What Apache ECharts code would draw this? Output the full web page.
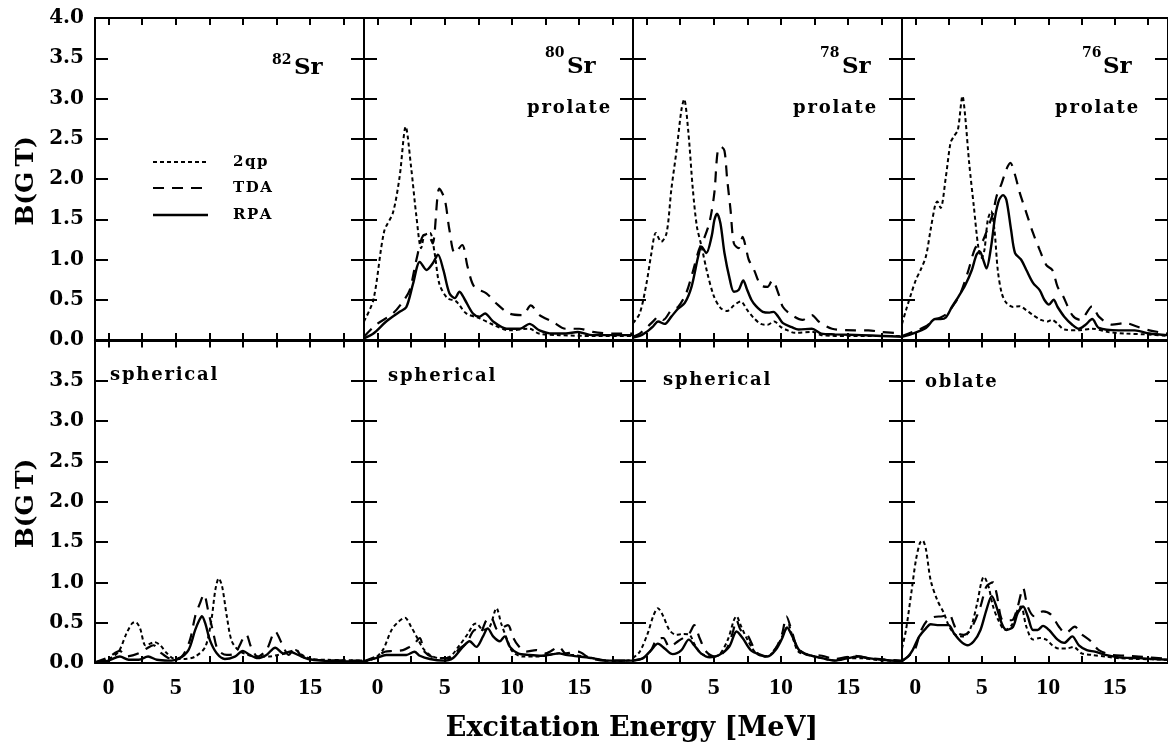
<!DOCTYPE html>
<html><head><meta charset="utf-8">
<script src="https://cdn.jsdelivr.net/npm/echarts@6/dist/echarts.min.js"></script>
<style>html,body{margin:0;padding:0;background:#fff}#c{width:1168px;height:751px}</style>
</head><body><div id="c"></div><script>
// ---------- tick labels ----------
const xTickVals = [0, 2.5, 5, 7.5, 10, 12.5, 15, 17.5];
const xLabelVals = [0, 5, 10, 15];
const seriesNames = ['2qp', 'TDA', 'RPA'];
const nuclei = ['82', '80', '78', '76'];
const topShapes = ['', 'prolate', 'prolate', 'prolate'];
const bottomShapes = ['spherical', 'spherical', 'spherical', 'oblate'];

// ---------- data: [energy MeV, B(GT)] ----------
// 80Sr prolate
const p80_2qp = [[-1,0.23],[-0.3,0.5],[0.5,1.35],[1.15,1.58],[1.65,2.03],[2.1,2.65],[2.5,2.15],[2.9,1.53],[3.25,1.14],[3.5,1.3],[3.9,1.33],[4.25,1.08],[4.6,0.7],[5.2,0.52],[5.85,0.48],[6.6,0.33],[7.6,0.27],[8.6,0.19],[9.8,0.12],[11.3,0.14],[12,0.08],[13.5,0.06],[16,0.05],[19,0.05]];
const p80_tda = [[-1,0.04],[-0.1,0.19],[1.15,0.33],[1.9,0.48],[2.4,0.62],[2.9,1.0],[3.4,1.3],[3.75,1.31],[4.1,1.2],[4.6,1.88],[5.0,1.75],[5.35,1.37],[5.75,1.08],[6.3,1.18],[6.7,0.91],[7.2,0.66],[8.1,0.58],[8.8,0.46],[9.8,0.33],[10.8,0.31],[11.4,0.43],[12.05,0.31],[13,0.23],[14,0.14],[15,0.14],[16,0.1],[17.5,0.08],[19,0.08]];
const p80_rpa = [[-1,0.02],[-0.3,0.08],[0.65,0.23],[1.65,0.35],[2.15,0.41],[2.65,0.7],[3.15,0.97],[3.65,0.87],[4.1,0.95],[4.5,1.06],[4.9,0.87],[5.35,0.58],[5.75,0.52],[6.1,0.6],[6.5,0.5],[7.1,0.33],[7.6,0.29],[8.0,0.33],[8.6,0.23],[9.6,0.14],[10.6,0.14],[11.3,0.2],[12.05,0.12],[13,0.08],[14,0.08],[14.9,0.1],[16,0.06],[19,0.06]];
// 78Sr prolate
const p78_2qp = [[-1,0.21],[-0.5,0.33],[0,0.7],[0.37,1.08],[0.7,1.33],[1.1,1.22],[1.5,1.33],[1.85,1.87],[2.25,2.37],[2.6,2.86],[2.8,2.99],[3.1,2.61],[3.45,1.87],[3.75,1.41],[4.1,1.16],[4.5,0.85],[5.0,0.55],[5.5,0.4],[6.0,0.36],[6.5,0.43],[7.0,0.48],[7.5,0.37],[8.0,0.27],[8.5,0.2],[9.0,0.19],[9.5,0.23],[10,0.16],[10.5,0.12],[11,0.09],[12.4,0.1],[13,0.06],[15,0.05],[19,0.05]];
const p78_tda = [[-1,0.04],[-0.5,0.08],[0,0.15],[0.6,0.25],[0.87,0.29],[1.25,0.25],[1.85,0.37],[2.35,0.41],[2.95,0.58],[3.45,0.85],[3.9,1.12],[4.35,1.29],[4.7,1.47],[5.05,1.83],[5.3,2.35],[5.55,2.4],[5.8,2.35],[6.0,2.0],[6.25,1.62],[6.5,1.2],[6.85,1.14],[7.15,1.28],[7.4,1.14],[7.6,1.0],[8.0,0.87],[8.5,0.68],[9.0,0.66],[9.35,0.74],[9.85,0.56],[10.15,0.41],[10.8,0.31],[11.6,0.25],[12.3,0.31],[12.8,0.23],[13.8,0.14],[15.5,0.12],[16.5,0.12],[17.5,0.1],[19,0.08]];
const p78_rpa = [[-1,0.03],[-0.5,0.05],[0,0.1],[0.5,0.17],[0.87,0.23],[1.35,0.2],[1.85,0.29],[2.35,0.39],[2.85,0.46],[3.35,0.66],[3.85,1.04],[4.1,1.16],[4.45,1.08],[4.85,1.29],[5.05,1.49],[5.25,1.57],[5.5,1.45],[5.8,1.08],[6.2,0.75],[6.5,0.6],[6.85,0.62],[7.2,0.74],[7.45,0.64],[7.8,0.5],[8.15,0.42],[8.65,0.35],[9.15,0.34],[9.45,0.35],[9.8,0.29],[10.15,0.21],[10.8,0.16],[11.3,0.13],[12.3,0.14],[13,0.08],[14,0.07],[16,0.06],[17.5,0.05],[19,0.04]];
// 76Sr prolate
const p76_2qp = [[-1,0.2],[-0.7,0.37],[-0.3,0.58],[0.05,0.75],[0.4,0.87],[0.8,1.04],[1.15,1.37],[1.5,1.68],[1.65,1.72],[1.9,1.64],[2.3,2.03],[2.65,2.45],[2.9,2.53],[3.2,2.61],[3.55,3.03],[3.75,2.78],[4.05,2.2],[4.4,1.66],[4.75,1.14],[5.0,1.02],[5.2,1.12],[5.45,1.49],[5.7,1.6],[5.95,1.37],[6.2,0.87],[6.5,0.58],[6.85,0.46],[7.35,0.41],[7.85,0.42],[8.35,0.37],[8.85,0.31],[9.45,0.25],[9.95,0.23],[10.25,0.25],[10.65,0.21],[11.2,0.13],[12.3,0.12],[13.3,0.14],[14.5,0.1],[15.8,0.08],[17.3,0.07],[19,0.05]];
const p76_tda = [[-1,0.05],[-0.2,0.1],[0.8,0.17],[1.4,0.25],[1.9,0.28],[2.4,0.33],[2.9,0.44],[3.4,0.58],[4.0,0.87],[4.5,1.14],[4.9,1.2],[5.1,1.24],[5.5,1.41],[5.85,1.58],[6.1,1.78],[6.5,1.95],[6.85,2.12],[7.15,2.2],[7.5,2.05],[7.85,1.83],[8.35,1.58],[8.85,1.33],[9.35,1.12],[9.85,0.93],[10.3,0.87],[10.7,0.66],[11.1,0.55],[11.8,0.31],[12.4,0.25],[13.3,0.42],[13.8,0.29],[14.8,0.19],[15.8,0.21],[16.6,0.17],[17.6,0.12],[19,0.08]];
const p76_rpa = [[-1,0.04],[-0.2,0.08],[0.8,0.15],[1.5,0.26],[1.9,0.26],[2.3,0.28],[2.75,0.41],[3.25,0.54],[3.75,0.68],[4.25,0.87],[4.6,1.06],[4.85,1.1],[5.1,1.0],[5.35,0.89],[5.7,1.16],[6.0,1.53],[6.3,1.74],[6.6,1.8],[6.85,1.74],[7.2,1.37],[7.5,1.08],[7.95,1.0],[8.35,0.87],[8.85,0.71],[9.35,0.62],[9.7,0.5],[10.05,0.44],[10.4,0.5],[10.7,0.41],[11.2,0.29],[11.8,0.19],[12.3,0.14],[12.8,0.19],[13.3,0.26],[13.8,0.15],[15.3,0.12],[16.5,0.12],[17.6,0.08],[19,0.06]];
// 82Sr spherical
const s82_2qp = [[-1,0.01],[0,0.05],[0.75,0.14],[1.35,0.37],[1.75,0.49],[2.0,0.51],[2.35,0.43],[2.75,0.22],[3.1,0.24],[3.4,0.26],[3.85,0.22],[4.35,0.12],[4.95,0.05],[5.7,0.05],[6.45,0.08],[7.2,0.2],[7.65,0.53],[7.95,0.91],[8.2,1.05],[8.45,0.95],[8.8,0.58],[9.15,0.28],[9.65,0.16],[10.4,0.1],[11.1,0.08],[11.9,0.08],[12.6,0.1],[13.2,0.12],[13.9,0.16],[14.4,0.1],[15.1,0.05],[16.3,0.04],[19,0.03]];
const s82_tda = [[-1,0.01],[0,0.07],[0.85,0.15],[1.35,0.08],[2.25,0.12],[2.85,0.18],[3.35,0.22],[3.95,0.12],[4.7,0.05],[5.45,0.08],[6.05,0.28],[6.45,0.58],[6.8,0.74],[7.1,0.85],[7.4,0.66],[7.8,0.37],[8.15,0.16],[8.8,0.1],[9.4,0.12],[10.25,0.35],[10.6,0.2],[11.1,0.08],[11.75,0.16],[12.4,0.39],[12.9,0.24],[13.4,0.1],[13.85,0.18],[14.4,0.08],[15.3,0.04],[19,0.03]];
const s82_rpa = [[-1,0.01],[0,0.03],[0.85,0.08],[1.5,0.04],[2.25,0.04],[2.95,0.08],[3.6,0.04],[4.45,0.03],[5.2,0.05],[5.95,0.16],[6.45,0.41],[6.75,0.53],[6.95,0.58],[7.2,0.49],[7.55,0.28],[8.05,0.12],[8.65,0.05],[9.4,0.08],[10.0,0.15],[10.5,0.1],[11.1,0.06],[11.75,0.1],[12.4,0.19],[13.0,0.12],[13.5,0.14],[14.1,0.1],[14.85,0.05],[15.8,0.03],[19,0.02]];
// 80Sr spherical
const s80_2qp = [[-1,0.02],[-0.2,0.06],[0.4,0.16],[1.05,0.41],[1.55,0.51],[2.05,0.56],[2.5,0.45],[2.9,0.33],[3.4,0.18],[3.9,0.1],[4.6,0.06],[5.4,0.08],[6.1,0.22],[6.75,0.37],[7.1,0.47],[7.35,0.49],[7.85,0.41],[8.35,0.45],[8.85,0.68],[9.2,0.49],[9.6,0.31],[10.05,0.14],[10.8,0.08],[11.8,0.08],[12.5,0.09],[13.5,0.12],[14.5,0.1],[15.5,0.08],[16.5,0.04],[18,0.02],[19,0.04]];
const s80_tda = [[-1,0.02],[-0.1,0.08],[0.55,0.14],[1.15,0.15],[1.9,0.16],[2.4,0.2],[2.75,0.24],[3.15,0.31],[3.5,0.14],[4.4,0.06],[5.4,0.06],[6.1,0.18],[6.6,0.24],[7.25,0.41],[7.6,0.37],[8.1,0.53],[8.45,0.56],[8.95,0.41],[9.7,0.47],[10.05,0.33],[10.45,0.22],[11.05,0.14],[11.8,0.16],[12.5,0.12],[13.5,0.2],[14,0.12],[14.9,0.14],[15.8,0.06],[17,0.03],[19,0.03]];
const s80_rpa = [[-1,0.02],[-0.1,0.06],[0.65,0.1],[1.4,0.1],[2.15,0.1],[2.75,0.14],[3.15,0.09],[3.9,0.05],[4.9,0.03],[5.6,0.06],[6.35,0.2],[6.85,0.27],[7.35,0.2],[7.85,0.33],[8.2,0.43],[8.6,0.33],[9.1,0.27],[9.45,0.33],[9.85,0.2],[10.45,0.12],[11.3,0.1],[12.2,0.09],[13.05,0.11],[13.5,0.12],[14,0.1],[15,0.08],[16,0.06],[17,0.03],[19,0.03]];
// 78Sr spherical
const s78_2qp = [[-1,0.06],[-0.5,0.14],[0.1,0.37],[0.5,0.58],[0.85,0.68],[1.25,0.58],[1.7,0.41],[2.2,0.35],[2.7,0.36],[3.2,0.35],[3.55,0.24],[4.05,0.12],[4.8,0.08],[5.4,0.1],[6.05,0.29],[6.5,0.53],[6.7,0.58],[7.0,0.47],[7.5,0.29],[8.15,0.12],[8.75,0.08],[9.35,0.12],[9.85,0.25],[10.3,0.4],[10.55,0.47],[10.9,0.3],[11.3,0.14],[12.05,0.1],[13.05,0.06],[14,0.03],[15,0.06],[16,0.06],[17,0.04],[19,0.02]];
const s78_tda = [[-1,0.03],[-0.25,0.06],[0.35,0.16],[0.75,0.29],[1.25,0.31],[1.7,0.2],[2.35,0.27],[3.2,0.37],[3.55,0.47],[3.95,0.31],[4.45,0.14],[5.15,0.08],[5.9,0.16],[6.4,0.37],[6.7,0.53],[7.0,0.41],[7.5,0.35],[8.15,0.14],[8.85,0.08],[9.6,0.18],[10.1,0.37],[10.4,0.58],[10.85,0.37],[11.2,0.2],[11.95,0.1],[13.05,0.09],[14,0.05],[15.5,0.09],[16.5,0.06],[19,0.03]];
const s78_rpa = [[-1,0.03],[-0.25,0.06],[0.35,0.16],[0.85,0.24],[1.35,0.18],[1.95,0.11],[2.6,0.16],[3.15,0.29],[3.55,0.22],[4.05,0.12],[4.7,0.07],[5.4,0.1],[6.15,0.2],[6.7,0.39],[7.15,0.31],[7.75,0.16],[8.5,0.1],[9.0,0.08],[9.6,0.16],[10.1,0.31],[10.45,0.44],[10.85,0.33],[11.35,0.16],[12.05,0.1],[13.05,0.06],[14,0.03],[15,0.06],[15.8,0.08],[16.5,0.06],[17.5,0.04],[19,0.02]];
// 76Sr oblate
const o76_2qp = [[-1,0.18],[-0.7,0.41],[-0.3,0.87],[0.05,1.28],[0.35,1.49],[0.55,1.52],[0.8,1.41],[1.15,1.03],[1.65,0.78],[2.15,0.62],[2.5,0.47],[3.0,0.35],[3.65,0.33],[4.15,0.43],[4.65,0.74],[4.95,0.99],[5.15,1.07],[5.5,0.95],[5.85,0.7],[6.25,0.53],[6.75,0.41],[7.25,0.47],[7.7,0.66],[7.95,0.7],[8.35,0.45],[8.85,0.29],[9.35,0.31],[9.85,0.29],[10.3,0.22],[10.8,0.18],[11.4,0.18],[11.9,0.2],[12.5,0.12],[13.3,0.1],[14.3,0.08],[15.3,0.06],[16.8,0.05],[19,0.04]];
const o76_tda = [[-1,0.02],[-0.55,0.08],[-0.05,0.16],[0.4,0.39],[0.9,0.53],[1.4,0.57],[2.05,0.58],[2.55,0.6],[2.9,0.48],[3.2,0.37],[3.65,0.35],[4.15,0.41],[4.9,0.7],[5.35,0.95],[5.85,1.0],[6.1,0.87],[6.6,0.53],[7.25,0.53],[7.7,0.7],[8.1,0.93],[8.45,0.7],[8.95,0.58],[9.6,0.64],[10.2,0.6],[10.8,0.45],[11.3,0.37],[12.0,0.45],[12.4,0.37],[13.2,0.27],[13.8,0.16],[14.8,0.1],[15.8,0.09],[16.8,0.08],[19,0.05]];
const o76_rpa = [[-1,0.03],[-0.55,0.08],[-0.2,0.16],[0.3,0.33],[0.8,0.43],[1.15,0.48],[1.65,0.47],[2.5,0.47],[2.9,0.37],[3.4,0.27],[3.9,0.22],[4.4,0.27],[4.9,0.41],[5.35,0.66],[5.75,0.83],[6.1,0.7],[6.5,0.49],[6.85,0.41],[7.35,0.45],[7.7,0.62],[8.1,0.7],[8.45,0.58],[8.85,0.41],[9.2,0.41],[9.6,0.46],[10.05,0.41],[10.7,0.29],[11.2,0.25],[11.8,0.33],[12.3,0.22],[12.9,0.16],[13.5,0.14],[14.3,0.1],[15.3,0.07],[16.8,0.06],[19,0.04]];

// panels: row-major, each panel = [2qp, TDA, RPA] or null
const panelData = [
  null, [p80_2qp, p80_tda, p80_rpa], [p78_2qp, p78_tda, p78_rpa], [p76_2qp, p76_tda, p76_rpa],
  [s82_2qp, s82_tda, s82_rpa], [s80_2qp, s80_tda, s80_rpa], [s78_2qp, s78_tda, s78_rpa], [o76_2qp, o76_tda, o76_rpa]
];

// ---------- layout / styles ----------
const LEFTS = [95, 364, 633, 902];
const PW = 269;
const TOPS = [18, 340.5];
const PH = [322, 322.5];
const lineStyles = [
  {color: '#000', width: 2, type: [4, 3]},
  {color: '#000', width: 2.2, type: [11, 8]},
  {color: '#000', width: 2.4, type: 'solid'}
];
const SERIF = '"DejaVu Serif", serif';
const TIMES = '"Liberation Serif", serif';

const grids = [], xAxes = [], yAxes = [], series = [];
for (let r = 0; r < 2; r++) {
  for (let c = 0; c < 4; c++) {
    const g = r * 4 + c;
    grids.push({left: LEFTS[c], top: TOPS[r], width: PW, height: PH[r], show: false, containLabel: false});
    const axLine = {show: true, onZero: false, lineStyle: {color: '#000', width: 2}};
    ['bottom', 'top'].forEach((pos, k) => {
      xAxes.push({
        type: 'value', gridIndex: g, position: pos, min: -1, max: 19,
        axisLine: axLine,
        axisTick: {show: true, inside: true, length: 7, customValues: xTickVals, lineStyle: {color: '#000', width: 2}},
        axisLabel: {show: (r === 1 && k === 0), customValues: xLabelVals, margin: 13, color: '#000',
          fontFamily: TIMES, fontWeight: 'bold', fontSize: 24},
        splitLine: {show: false}
      });
    });
    ['left', 'right'].forEach((pos, k) => {
      yAxes.push({
        type: 'value', gridIndex: g, position: pos, min: 0, max: 4, interval: 0.5,
        axisLine: axLine,
        axisTick: {show: true, inside: true, length: 13, lineStyle: {color: '#000', width: 2}},
        axisLabel: {show: (c === 0 && k === 0), margin: 11, color: '#000',
          fontFamily: SERIF, fontWeight: 'bold', fontSize: 20,
          formatter: (v) => (r === 1 && v >= 4) ? '' : v.toFixed(1)},
        splitLine: {show: false}
      });
    });
    const pd = panelData[g];
    if (pd) {
      pd.forEach((d, i) => {
        series.push({
          name: seriesNames[i], type: 'line', xAxisIndex: 2 * g, yAxisIndex: 2 * g,
          data: d, symbol: 'none', showSymbol: false, smooth: 0.3,
          lineStyle: lineStyles[i], silent: true, animation: false, z: 3 + i
        });
      });
    }
  }
}

// ---------- annotations ----------
const graphic = [];
function txt(x, y, text, size, family, align, extra) {
  graphic.push(Object.assign({type: 'text', x: x, y: y, silent: true, z: 10,
    style: {text: text, fill: '#000', fontFamily: family, fontWeight: 'bold', fontSize: size,
      align: align || 'left', verticalAlign: 'middle'}}, extra || {}));
}
const supPos = [[272, 60, 294, 68], [545, 53, 567, 67], [820, 53, 842, 67], [1082, 53, 1103, 67]];
nuclei.forEach((n, c) => {
  const p = supPos[c];
  txt(p[0], p[1], n, 14, SERIF);
  txt(p[2], p[3], 'Sr', 23, SERIF);
});
const sp = (s) => s.split('').join('\u200A');
const protX = [null, 527, 793, 1055];
topShapes.forEach((s, c) => { if (s) txt(protX[c], 108, sp(s), 18, SERIF); });
const botPos = [[110, 375], [388, 376], [663, 380], [925, 382]];
bottomShapes.forEach((s, c) => txt(botPos[c][0], botPos[c][1], sp(s), 18, SERIF));

// legend in first panel
const legY = [162, 188, 215];
seriesNames.forEach((n, i) => {
  graphic.push({type: 'line', silent: true, z: 10,
    shape: {x1: 153, y1: legY[i], x2: 208, y2: legY[i]},
    style: {stroke: '#000', lineWidth: lineStyles[i].width,
      lineDash: Array.isArray(lineStyles[i].type) ? lineStyles[i].type : null}});
  txt(233, legY[i], sp(n), 15, SERIF);
});

// axis titles
txt(26, 181, 'B(G\u2009T)', 25, SERIF, 'center', {rotation: Math.PI / 2});
txt(26, 503.5, 'B(G\u2009T)', 25, SERIF, 'center', {rotation: Math.PI / 2});
txt(632, 729, 'Excitation Energy [MeV]', 27, SERIF, 'center');

const chart = echarts.init(document.getElementById('c'), null, {renderer: 'canvas'});
chart.setOption({
  animation: false,
  backgroundColor: '#fff',
  grid: grids, xAxis: xAxes, yAxis: yAxes, series: series, graphic: graphic
});
</script></body></html>
